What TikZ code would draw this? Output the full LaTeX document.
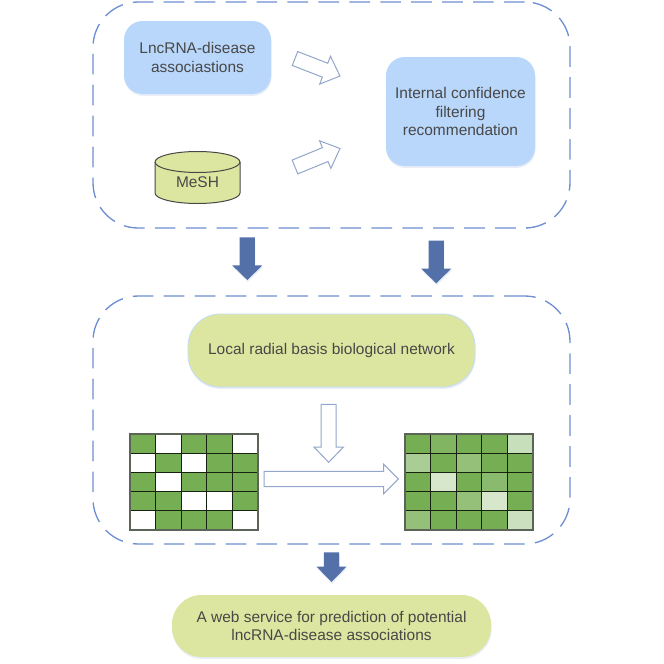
\documentclass[tikz,border=0pt]{standalone}
\usepackage{fontspec}
\setmainfont{Liberation Sans}
\usetikzlibrary{calc,shadows,shapes.geometric}
\definecolor{paleblue}{HTML}{B9D7FB}
\definecolor{palegreen}{HTML}{DDE6A0}
\definecolor{dashblue}{HTML}{6E8FD2}
\definecolor{solidblue}{HTML}{5470A9}
\definecolor{hollowblue}{HTML}{93A6CB}
\definecolor{ink}{HTML}{484848}
\definecolor{cellbase}{HTML}{76AE54}
\definecolor{gridline}{HTML}{16220F}
\tikzset{
  x=.75pt, y=-.75pt,
  softshadow/.style={drop shadow={shadow xshift=.4pt,shadow yshift=-1.4pt,opacity=.22,fill=dashblue!70}},
  label text/.style={text=ink,font=\fontsize{11.6}{14}\selectfont,align=center},
  group frame/.style={draw=dashblue,line width=1pt,dash pattern=on 15.5pt off 7.7pt,rounded corners=34pt,inner sep=0pt},
  blue box/.style={fill=paleblue,rounded corners=14pt,inner sep=0pt,label text,softshadow},
  green box/.style={fill=palegreen,draw=paleblue!85!white,line width=.6pt,rounded corners=24pt,inner sep=0pt,label text,softshadow},
  green pill/.style={fill=palegreen,rounded corners=22pt,inner sep=0pt,label text,softshadow},
  hollow arrow/.style={draw=hollowblue,fill=white,line width=.75pt,line join=miter},
  solid arrow/.style={fill=solidblue,softshadow},
}
% Block arrow between two named coordinates: #1 style, #2 start, #3 end,
% #4 half shaft width, #5 half head width, #6 head length (all in pt)
\newcommand{\blockarrow}[6]{%
  \path let \p1=($(#3)-(#2)$), \n1={atan2(\y1,\x1)}, \n2={veclen(\x1,\y1)} in
    [shift={(#2)},rotate=\n1]
    [#1] (0pt,#4pt) -- (\n2-#6pt,#4pt) -- (\n2-#6pt,#5pt) -- (\n2,0pt)
      -- (\n2-#6pt,-#5pt) -- (\n2-#6pt,-#4pt) -- (0pt,-#4pt) -- cycle;%
}
% Five-by-five grid, one colour per cell, top-left corner at #1,#2
\newcommand{\cellgrid}[3]{%
  \foreach \c [count=\i from 0] in {#3} {
    \pgfmathsetmacro{\col}{int(mod(\i,5))}
    \pgfmathsetmacro{\row}{int(\i/5)}
    \fill[\c] ({#1+\col*25.6},{#2+\row*19.2}) rectangle ++(25.6,19.2);
  }
  \foreach \k in {1,...,4} {
    \draw[gridline,line width=.85pt] ({#1+\k*25.6},#2) -- ++(0,96);
    \draw[gridline,line width=.85pt] (#1,{#2+\k*19.2}) -- ++(128,0);
  }
  \draw[gridline!70!white,line width=1pt] (#1,#2) rectangle ++(128,96);
}
\begin{document}
\begin{tikzpicture}
\useasboundingbox (0,0) rectangle (664,664);
\fill[white] (0,0) rectangle (664,664);

% Group frames
\node[group frame,minimum width=357.75pt,minimum height=169.5pt] (top) at (331.5,115) {};
\node[group frame,minimum width=357.75pt,minimum height=186pt] (mid) at (331.5,420) {};

% Upper group
\node[blue box,minimum width=110.25pt,minimum height=54.75pt] (assoc) at (197.5,57.5)
  {LncRNA-disease\\associastions};
\node[blue box,minimum width=111.75pt,minimum height=81.75pt] (filter) at (460.5,111.5)
  {Internal confidence\\filtering\\recommendation};
% Database drum
\path[fill=palegreen,draw=ink,line width=.75pt]
  (155,162) arc[start angle=180,end angle=360,x radius=42.5,y radius=10.5]
  -- (240,193) arc[start angle=0,end angle=180,x radius=42.5,y radius=10.5] -- cycle;
\draw[ink,line width=.75pt] (155,162) arc[start angle=180,end angle=0,x radius=42.5,y radius=10.5];
\node[label text] (mesh) at (197.5,182) {MeSH};

% Middle group
\node[green box,minimum width=215.25pt,minimum height=54.75pt] (rbf) at (331.5,350.5)
  {Local radial basis biological network};
\cellgrid{130}{434}{
  cellbase,white,cellbase,cellbase,white,
  white,cellbase,white,cellbase,cellbase,
  cellbase,white,cellbase,cellbase,cellbase,
  cellbase,cellbase,white,white,cellbase,
  white,cellbase,cellbase,cellbase,white}
\cellgrid{405}{434}{
  cellbase,cellbase!92!white,cellbase,cellbase,cellbase!40!white,
  cellbase!62!white,cellbase,cellbase!78!white,cellbase,cellbase,
  cellbase,cellbase!30!white,cellbase,cellbase!85!white,cellbase,
  cellbase,cellbase,cellbase!78!white,cellbase!30!white,cellbase,
  cellbase!78!white,cellbase,cellbase,cellbase,cellbase!38!white}

% Result
\node[green pill,minimum width=239.25pt,minimum height=46.5pt] (web) at (331.5,626)
  {A web service for prediction of potential\\lncRNA-disease associations};

% Arrow end points
\coordinate (a1s) at (295,58.5);
\coordinate (a1e) at (340,76);
\coordinate (a2s) at (295,167);
\coordinate (a2e) at (340,148.5);
\coordinate (d1s) at (247.3,237.3);
\coordinate (d1e) at (247.3,280);
\coordinate (d2s) at (436.2,240.7);
\coordinate (d2e) at (436.2,283.3);
\coordinate (d3s) at (331.5,552.3);
\coordinate (d3e) at (331.5,582);
\coordinate (h1s) at (328.7,404.3);
\coordinate (h1e) at (328.7,462.3);
\coordinate (h2s) at (264,479);
\coordinate (h2e) at (398.3,479);

% Open arrows
\blockarrow{hollow arrow}{a1s}{a1e}{5.6}{11.2}{12}
\blockarrow{hollow arrow}{a2s}{a2e}{5.6}{11.2}{12}
\blockarrow{hollow arrow}{h1s}{h1e}{5.6}{11}{11.4}
\blockarrow{hollow arrow}{h2s}{h2e}{5.7}{11}{11}

% Filled arrows between stages
\blockarrow{solid arrow}{d1s}{d1e}{5.7}{11.3}{11}
\blockarrow{solid arrow}{d2s}{d2e}{5.7}{11.3}{11}
\blockarrow{solid arrow}{d3s}{d3e}{5.8}{11.2}{11.5}
\end{tikzpicture}
\end{document}
